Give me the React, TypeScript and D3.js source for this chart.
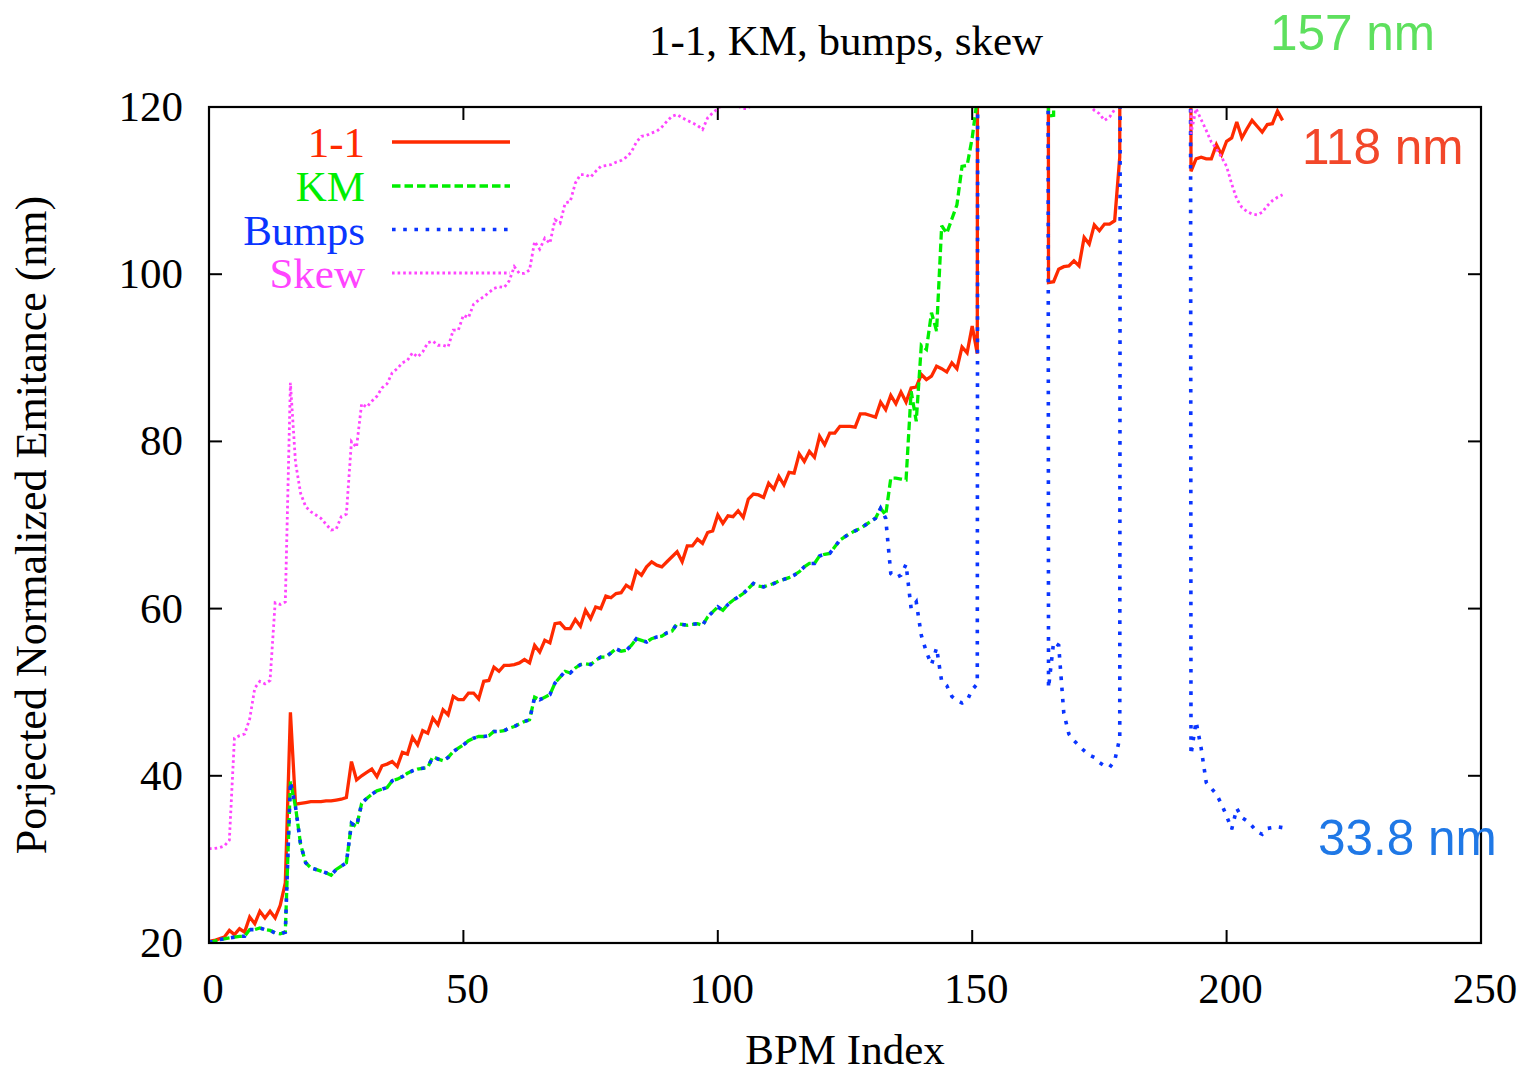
import React from "react";
import * as d3 from "d3";

// ---------------- data (BPM index 0..211) ----------------
// 999 marks values that lie far above the plotted range (clipped by the frame)
const red11: number[] = [
  20.2, 20.3, 20.5, 20.7, 21.5, 21.0, 21.7, 21.3, 23.1, 22.3,
  23.8, 23.0, 23.8, 23.0, 24.5, 27.2, 47.6, 36.6, 36.7, 36.8,
  36.9, 36.9, 36.9, 37.0, 37.0, 37.1, 37.2, 37.4, 41.7, 39.5,
  40.0, 40.4, 40.8, 39.9, 41.2, 41.4, 41.7, 41.1, 42.8, 42.6,
  44.6, 43.7, 45.4, 45.1, 46.9, 46.1, 47.9, 47.3, 49.5, 49.1,
  49.1, 49.9, 49.9, 49.2, 51.3, 51.4, 53.0, 52.5, 53.2, 53.2,
  53.3, 53.5, 53.9, 53.5, 55.6, 54.8, 56.2, 55.9, 58.2, 58.3,
  57.6, 57.6, 58.7, 57.9, 59.8, 58.8, 60.2, 60.0, 61.5, 61.3,
  61.8, 61.9, 62.8, 62.4, 64.5, 64.0, 65.0, 65.6, 65.2, 65.0,
  65.6, 66.2, 66.8, 65.6, 67.5, 67.5, 68.3, 67.8, 69.1, 69.3,
  71.2, 70.2, 71.1, 71.0, 71.7, 70.9, 73.1, 73.7, 73.6, 73.3,
  75.0, 74.3, 75.8, 74.8, 76.3, 76.2, 78.5, 77.6, 78.8, 78.1,
  80.6, 79.6, 81.0, 81.0, 81.8, 81.8, 81.8, 81.7, 83.3, 83.3,
  83.1, 82.9, 84.7, 83.8, 85.5, 84.5, 85.9, 84.7, 86.4, 86.5,
  88.0, 87.4, 87.8, 89.0, 88.7, 88.3, 89.4, 88.7, 91.3, 90.6,
  93.8, 90.5, 999, 999, 999, 999, 999, 999, 999, 999,
  999, 999, 999, 999, 999, 99.0, 99.1, 100.6, 100.9, 101.0,
  101.6, 101.0, 104.4, 103.6, 105.9, 105.2, 106.0, 106.0, 106.4, 114.0,
  999, 999, 999, 999, 999, 999, 999, 999, 999, 999,
  999, 999, 999, 112.3, 113.8, 114.0, 113.8, 113.8, 115.5, 114.3,
  115.9, 116.3, 118.2, 116.3, 117.4, 118.4, 117.7, 117.0, 117.9, 118.0,
  119.5, 118.4,
];

// KM and Bumps coincide for BPM 0..131
const kmBumpsShared: number[] = [
  20.1, 20.2, 20.4, 20.5, 20.6, 20.7, 20.8, 20.8, 21.6, 21.6,
  21.8, 21.6, 21.5, 21.2, 21.1, 21.3, 39.3, 36.3, 31.8, 29.6,
  29.0, 28.8, 28.6, 28.4, 28.1, 28.8, 29.2, 29.6, 34.3, 33.9,
  36.7, 37.3, 37.8, 38.2, 38.4, 38.6, 39.4, 39.6, 39.9, 40.3,
  40.6, 40.8, 40.9, 41.0, 42.3, 42.0, 41.8, 42.2, 42.9, 43.3,
  43.7, 44.2, 44.5, 44.7, 44.7, 44.8, 45.3, 45.3, 45.4, 45.7,
  45.9, 46.2, 46.5, 46.7, 49.4, 49.1, 49.4, 49.7, 51.1, 51.8,
  52.5, 52.3, 52.9, 53.3, 53.4, 53.3, 53.8, 54.2, 54.2, 54.7,
  55.2, 54.9, 55.0, 55.6, 56.4, 56.2, 56.0, 56.4, 56.6, 56.7,
  57.1, 57.3, 58.2, 58.1, 58.0, 58.1, 58.2, 58.0, 59.0, 59.6,
  60.2, 59.8, 60.5, 61.0, 61.4, 61.8, 62.4, 63.0, 62.7, 62.6,
  62.8, 63.0, 63.3, 63.5, 63.7, 64.0, 64.4, 65.0, 65.4, 65.4,
  66.3, 66.5, 66.6, 67.4, 68.2, 68.6, 69.0, 69.3, 69.6, 70.0,
  70.4, 70.8,
];

// KM from BPM 132..211
const kmTail: number[] = [
  72.0, 71.2, 75.6, 75.6, 75.5, 75.4, 86.0, 82.4, 91.5, 91.0,
  95.4, 93.2, 105.8, 104.9, 106.6, 108.3, 112.9, 113.0, 116.3, 121.0,
  999, 999, 999, 999, 999, 999, 999, 999, 999, 999,
  999, 999, 999, 118.9, 119.0, 999, 999, 999, 999, 999,
  999, 999, 999, 999, 999, 999, 999, 999, 999, 999,
  999, 999, 999, 999, 999, 999, 999, 999, 999, 999,
  999, 999, 999, 999, 999, 999, 999, 999, 999, 999,
  999, 999, 999, 999, 999, 999, 999, 999, 999, 157,
];

// Bumps from BPM 132..211
const bumpsTail: number[] = [
  72.0, 70.8, 64.2, 63.7, 64.0, 65.3, 60.0, 60.8, 56.8, 54.8,
  53.3, 55.3, 51.3, 50.8, 49.5, 49.0, 48.7, 49.0, 50.3, 51.0,
  999, 999, 999, 999, 999, 999, 999, 999, 999, 999,
  999, 999, 999, 50.5, 56.0, 55.6, 47.5, 45.0, 44.2, 43.6,
  43.0, 42.5, 42.2, 41.6, 41.2, 41.0, 41.8, 44.5, 999, 999,
  999, 999, 999, 999, 999, 999, 999, 999, 999, 999,
  999, 42.5, 46.5, 43.3, 39.2, 38.5, 37.8, 36.6, 35.2, 33.6,
  36.1, 35.0, 34.6, 34.0, 33.3, 33.0, 33.7, 33.8, 33.9, 33.8,
];

const skew: number[] = [
  31.3, 31.3, 31.4, 31.6, 32.3, 44.5, 44.8, 45.0, 46.8, 50.5,
  51.3, 51.0, 51.4, 60.7, 60.5, 60.8, 87.0, 77.5, 73.8, 72.2,
  71.6, 71.2, 70.8, 70.1, 69.4, 69.5, 71.0, 71.3, 80.0, 79.3,
  84.5, 84.1, 84.8, 85.4, 86.4, 86.9, 88.2, 88.7, 89.4, 89.7,
  90.6, 90.1, 90.7, 91.8, 92.0, 91.5, 91.5, 91.3, 93.3, 93.3,
  95.1, 94.8, 96.4, 96.9, 97.3, 97.8, 98.3, 98.5, 98.4, 99.2,
  100.9, 100.1, 100.1, 100.5, 103.9, 103.0, 104.3, 103.7, 106.5, 106.1,
  108.5, 108.7, 110.9, 111.9, 111.9, 111.6, 112.3, 112.9, 113.0, 113.1,
  113.4, 113.6, 114.0, 114.6, 115.8, 116.5, 116.6, 116.9, 117.1, 117.6,
  118.3, 118.9, 119.1, 118.7, 118.4, 118.1, 117.8, 117.3, 118.7, 119.3,
  119.8, 120.3, 120.6, 120.5, 120.1, 119.8, 119.8, 121.0, 124.0, 999,
  999, 999, 999, 999, 999, 999, 999, 999, 999, 999,
  999, 999, 999, 999, 999, 999, 999, 999, 999, 999,
  999, 999, 999, 999, 999, 999, 999, 999, 999, 999,
  999, 999, 999, 999, 999, 999, 999, 999, 999, 999,
  999, 999, 999, 999, 999, 999, 999, 999, 999, 999,
  999, 999, 999, 999, 999, 999, 999, 999, 999, 999,
  999, 999, 123.0, 120.2, 119.6, 119.2, 118.4, 118.8, 119.7, 123.0,
  999, 999, 999, 999, 999, 999, 999, 999, 999, 999,
  999, 999, 999, 116.8, 119.8, 118.5, 117.2, 115.8, 115.0, 114.0,
  112.9, 110.8, 109.0, 108.0, 107.5, 107.2, 107.1, 107.4, 108.2, 108.8,
  109.2, 109.5,
];

const xTicks = [0, 50, 100, 150, 200, 250];
const yTicks = [20, 40, 60, 80, 100, 120];

const seriesNames = ["1-1", "KM", "Bumps", "Skew"];
const seriesColors = ["#ff2a00", "#00ee00", "#0a35ff", "#ff44ff"];
const seriesDash = ["", "8.5 4", "3.6 7.6", "2.6 3"];
const seriesWidth = [3.3, 3.3, 3.6, 2.8];

const annotations = [
  { text: "157 nm", color: "#5ee05e" },
  { text: "118 nm", color: "#f2472a" },
  { text: "33.8 nm", color: "#1f78e6" },
];

// ---------------- layout ----------------
const W = 1522;
const H = 1074;
const PL = 209;
const PR = 1481;
const PT = 107;
const PB = 943;

export default function App() {
  const x = d3.scaleLinear().domain([0, 250]).range([PL, PR]);
  const y = d3.scaleLinear().domain([20, 120]).range([PB, PT]);

  const km = kmBumpsShared.concat(kmTail);
  const bumps = kmBumpsShared.concat(bumpsTail);
  const allSeries = [red11, km, bumps, skew];

  const line = d3
    .line<number>()
    .x((_, i) => x(i))
    .y((v) => y(v));

  const serif = "'Liberation Serif', 'Times New Roman', serif";
  const sans = "'Liberation Sans', Arial, sans-serif";
  const fs = 43;
  const tickLen = 13;

  const legendY = [142, 186, 229.5, 273];

  return (
    <svg
      width={W}
      height={H}
      style={{ position: "absolute", left: 0, top: 0, background: "#fff" }}
    >
      <defs>
        <clipPath id="plotClip">
          <rect x={PL} y={PT} width={PR - PL} height={PB - PT} />
        </clipPath>
      </defs>
      <rect x={0} y={0} width={W} height={H} fill="#fff" />

      {/* ticks */}
      {yTicks.map((t) => (
        <g key={"y" + t}>
          <line x1={PL} x2={PL + tickLen} y1={y(t)} y2={y(t)} stroke="#000" strokeWidth={2} />
          <line x1={PR} x2={PR - tickLen} y1={y(t)} y2={y(t)} stroke="#000" strokeWidth={2} />
          <text
            x={PL - 26}
            y={y(t) + 14}
            textAnchor="end"
            fontFamily={serif}
            fontSize={fs}
            fill="#000"
          >
            {t}
          </text>
        </g>
      ))}
      {xTicks.map((t) => (
        <g key={"x" + t}>
          <line x1={x(t)} x2={x(t)} y1={PB} y2={PB - tickLen} stroke="#000" strokeWidth={2} />
          <line x1={x(t)} x2={x(t)} y1={PT} y2={PT + tickLen} stroke="#000" strokeWidth={2} />
          <text
            x={x(t) + 4}
            y={1003}
            textAnchor="middle"
            fontFamily={serif}
            fontSize={fs}
            fill="#000"
          >
            {t}
          </text>
        </g>
      ))}

      {/* data lines */}
      <g clipPath="url(#plotClip)">
        {allSeries.map((s, k) => (
          <path
            key={"s" + k}
            d={line(s) || ""}
            fill="none"
            stroke={seriesColors[k]}
            strokeWidth={seriesWidth[k]}
            strokeDasharray={seriesDash[k] || undefined}
            strokeLinejoin="miter"
            strokeMiterlimit={3}
          />
        ))}
      </g>

      {/* frame */}
      <rect
        x={PL}
        y={PT}
        width={PR - PL}
        height={PB - PT}
        fill="none"
        stroke="#000"
        strokeWidth={2.2}
      />

      {/* legend */}
      {seriesNames.map((n, k) => (
        <g key={"lg" + k}>
          <text
            x={365}
            y={legendY[k] + 15}
            textAnchor="end"
            fontFamily={serif}
            fontSize={fs}
            fill={seriesColors[k]}
          >
            {n}
          </text>
          <line
            x1={392}
            x2={510}
            y1={legendY[k]}
            y2={legendY[k]}
            stroke={seriesColors[k]}
            strokeWidth={seriesWidth[k]}
            strokeDasharray={seriesDash[k] || undefined}
          />
        </g>
      ))}

      {/* titles */}
      <text x={846} y={55} textAnchor="middle" fontFamily={serif} fontSize={fs} fill="#000">
        1-1, KM, bumps, skew
      </text>
      <text x={845} y={1064} textAnchor="middle" fontFamily={serif} fontSize={fs} fill="#000">
        BPM Index
      </text>
      <text
        transform="translate(46,525) rotate(-90)"
        textAnchor="middle"
        fontFamily={serif}
        fontSize={44}
        fill="#000"
      >
        Porjected Normalized Emitance (nm)
      </text>

      {/* annotations */}
      <text x={1270} y={50} fontFamily={sans} fontSize={49.5} fill={annotations[0].color}>
        {annotations[0].text}
      </text>
      <text x={1302} y={164} fontFamily={sans} fontSize={49.5} fill={annotations[1].color}>
        {annotations[1].text}
      </text>
      <text x={1318} y={855} fontFamily={sans} fontSize={49.5} fill={annotations[2].color}>
        {annotations[2].text}
      </text>
    </svg>
  );
}
